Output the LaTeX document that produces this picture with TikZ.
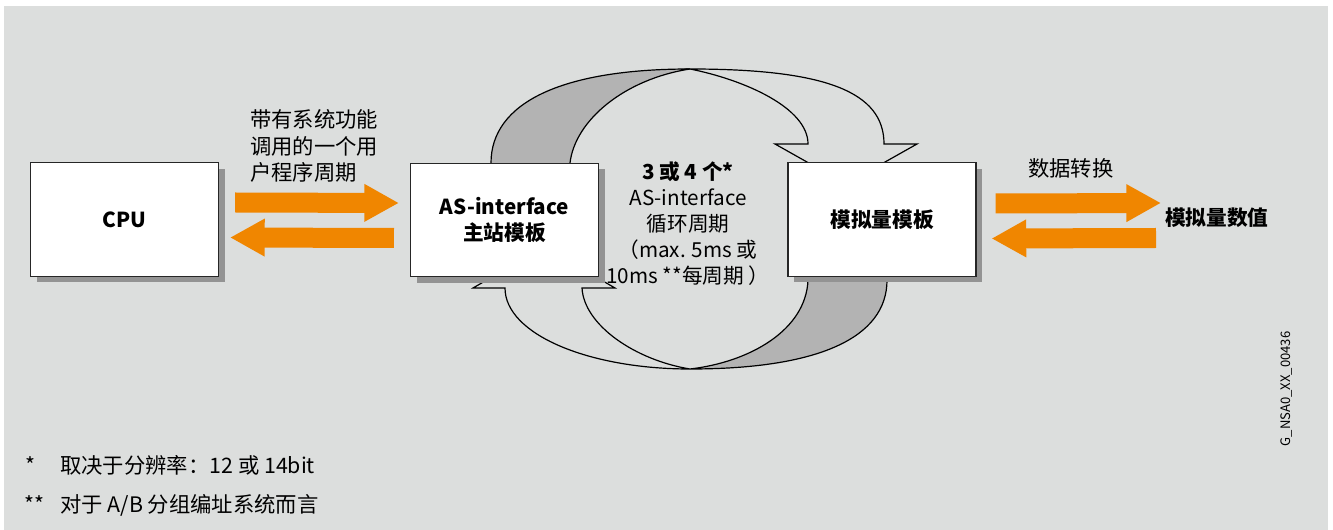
\documentclass[tikz,border=0pt]{standalone}
\usepackage{fontspec}
\setmainfont{Noto Sans CJK SC}
\usetikzlibrary{arrows.meta,positioning,shadows}
\definecolor{panel}{HTML}{DCDEDD}
\definecolor{flow}{HTML}{F08600}
\definecolor{twist}{HTML}{B3B3B3}
\definecolor{shade}{HTML}{939393}
\newcommand{\txt}{\fontsize{15.5pt}{19.5pt}\selectfont}
\newcommand{\bigtxt}{\fontsize{16pt}{20pt}\selectfont}
\tikzset{
  box/.style={draw=black!85, fill=white, line width=0.8pt, minimum width=141pt, minimum height=85pt, align=center, font=\txt\bfseries,
    drop shadow={shadow xshift=4.5pt, shadow yshift=-4.5pt, fill=shade, opacity=1}},
  lbl/.style={align=left, inner sep=0pt, font=\bigtxt},
  fwd/.style={draw=flow, line width=15pt, -{Triangle[length=26pt, width=26.5pt]}},
  face/.style={draw=black, line width=0.9pt, fill=panel, line join=miter},
  back/.style={face, fill=twist},
}

\begin{document}
\begin{tikzpicture}[x=0.75pt, y=-0.75pt]
    \useasboundingbox (0,0) rectangle (1333,530);
    \fill[panel] (4,6) rectangle (1328,530);
    % cycle ribbon, top half
    \filldraw[back] (491,185) -- (491,163) .. controls (491,103) and (561,69) .. (690,69)
      .. controls (625,79) and (575,120) .. (570,163) -- (570,185) -- cycle;
    \filldraw[face] (690,69) .. controls (826,69) and (884,92) .. (884,144) -- (917,144) -- (846,184)
      -- (775,144) -- (808,144) .. controls (808,108) and (745,80) .. (690,69) -- cycle;
    % cycle ribbon, bottom half
    \filldraw[face] (690,369) .. controls (588,369) and (505,334) .. (505,288) -- (473,288) -- (544,247)
      -- (615,288) -- (582,288) .. controls (584,325) and (635,360) .. (690,369) -- cycle;
    \filldraw[back] (887,255) -- (887,280) .. controls (887,338) and (818,369) .. (690,369)
      .. controls (750,362) and (806,330) .. (808,280) -- (808,255) -- cycle;
    % modules
    \node[box] (cpu) at (124.5,219.5) {CPU};
    \node[box] (master) at (504.5,220) {AS-interface\\主站模板};
    \node[box] (analog) at (882,219.5) {模拟量模板};
    % texts
    \node[lbl, anchor=west] (call) at (250,146) {带有系统功能\\调用的一个用\\户程序周期};
    \node[lbl, align=center, font=\txt] (cycle) at (688,224) {\textbf{3 或 4 个*}\\AS-interface\\循环周期\\（max. 5ms 或\\10ms **每周期 ）};
    \node[lbl, anchor=west] (conv) at (1028,168) {数据转换};
    \node[lbl, anchor=west, font=\txt\bfseries] (value) at (1165,218) {模拟量数值};
    \node[lbl, rotate=90, font=\fontsize{9.8pt}{9.8pt}\selectfont] (code) at (1287,389) {G\_NSA0\_XX\_00436};
    \node[lbl, anchor=base west] (mark1) at (25,473) {*};
    \node[lbl, anchor=base west] (foot1) at (60,473) {取决于分辨率：12 或 14bit};
    \node[lbl, anchor=base west] (mark2) at (24,512) {**};
    \node[lbl, anchor=base west] (foot2) at (60,512) {对于 A/B 分组编址系统而言};
    % orange transfers
    \draw[fwd] ([shift={(16,-17)}]cpu.east) -- ([shift={(-11,-17)}]master.west);
    \draw[fwd] ([shift={(-16,18)}]master.west) -- ([shift={(11,18)}]cpu.east);
    \draw[fwd] ([shift={(19,-16)}]analog.east) -- ([shift={(-4,-15)}]value.west);
    \draw[fwd] ([shift={(-9,20)}]value.west) -- ([shift={(15,19)}]analog.east);
\end{tikzpicture}
\end{document}
